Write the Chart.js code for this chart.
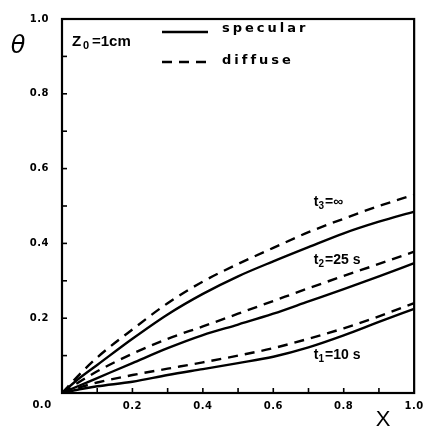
<!DOCTYPE html>
<html><head><meta charset="utf-8">
<script src="https://cdn.jsdelivr.net/npm/chart.js@4"></script>
<style>html,body{margin:0;padding:0;background:#fff}#c{display:block}</style>
</head><body>
<canvas id="c" width="430" height="433"></canvas>
<script>
const xValues      = [0, 0.05, 0.1, 0.2, 0.3, 0.4, 0.5, 0.6, 0.7, 0.8, 0.9, 1.0];
const diffuseT3    = [0, 0.05, 0.095, 0.17, 0.24, 0.298, 0.345, 0.388, 0.43, 0.466, 0.50, 0.53];
const specularT3   = [0, 0.04, 0.075, 0.145, 0.21, 0.265, 0.312, 0.352, 0.39, 0.427, 0.458, 0.485];
const diffuseT2    = [0, 0.03, 0.058, 0.105, 0.145, 0.178, 0.212, 0.246, 0.28, 0.313, 0.345, 0.378];
const specularT2   = [0, 0.02, 0.04, 0.08, 0.12, 0.155, 0.183, 0.212, 0.245, 0.278, 0.312, 0.347];
const diffuseT1    = [0, 0.015, 0.028, 0.048, 0.065, 0.082, 0.10, 0.12, 0.145, 0.173, 0.205, 0.24];
const specularT1   = [0, 0.01, 0.018, 0.03, 0.048, 0.064, 0.08, 0.097, 0.122, 0.154, 0.19, 0.225];
const xTickLabels  = ['0.2', '0.4', '0.6', '0.8', '1.0'];
const yTickLabels  = ['0.2', '0.4', '0.6', '0.8', '1.0'];
const curveLabels  = [['t', '3', '=\u221e'], ['t', '2', '=25 s'], ['t', '1', '=10 s']];

const pts = arr => arr.map((v, i) => ({x: xValues[i], y: v}));
const DASH = [10, 7];
function ds(data, dashed) {
  return {data: pts(data), borderColor: '#000', borderWidth: 2.4, pointRadius: 0,
    borderDash: dashed ? DASH : [], cubicInterpolationMode: 'monotone', fill: false};
}

const lbl = (list) => (v) => { const s = Number(v).toFixed(1); return list.includes(s) ? s : ''; };
const TICKFONT = '"DejaVu Sans", sans-serif';

const spacing = {
  id: 'spacing',
  beforeDraw(c) { c.ctx.letterSpacing = '0.5px'; },
  beforeDatasetsDraw(c) { c.ctx.letterSpacing = '0px'; }
};

const deco = {
  id: 'deco',
  afterDraw(c) {
    const ctx = c.ctx, a = c.chartArea, xs = c.scales.x, ys = c.scales.y;
    ctx.save();
    ctx.strokeStyle = '#000'; ctx.fillStyle = '#000';
    ctx.lineWidth = 2.2; ctx.setLineDash([]);
    ctx.strokeRect(a.left, a.top, a.right - a.left, a.bottom - a.top);
    ctx.lineWidth = 1.6;
    for (let i = 1; i < 10; i++) {
      const v = i / 10;
      const px = xs.getPixelForValue(v);
      ctx.beginPath(); ctx.moveTo(px, a.bottom); ctx.lineTo(px, a.bottom - 5); ctx.stroke();
      const py = ys.getPixelForValue(v);
      ctx.beginPath(); ctx.moveTo(a.left, py); ctx.lineTo(a.left + 5, py); ctx.stroke();
    }
    // 0.0 corner label
    ctx.letterSpacing = '0.5px';
    ctx.font = 'bold 10px ' + TICKFONT;
    ctx.textAlign = 'center'; ctx.textBaseline = 'middle';
    ctx.fillText('0.0', 42, 405);
    // legend
    ctx.letterSpacing = '3px';
    ctx.font = 'bold 13px ' + TICKFONT;
    ctx.textAlign = 'left';
    ctx.fillText('specular', 222, 29);
    ctx.fillText('diffuse', 222, 61);
    ctx.letterSpacing = '0px';
    ctx.lineWidth = 2.4;
    ctx.beginPath(); ctx.moveTo(162, 32); ctx.lineTo(208, 32); ctx.stroke();
    ctx.setLineDash(DASH);
    ctx.beginPath(); ctx.moveTo(162, 62); ctx.lineTo(208, 62); ctx.stroke();
    ctx.setLineDash([]);
    // Z0 = 1cm
    ctx.font = 'bold 15px "Liberation Sans", Arial, sans-serif';
    ctx.fillText('Z', 72, 42);
    ctx.font = 'bold 11px "Liberation Sans", Arial, sans-serif';
    ctx.fillText('0', 83, 46);
    ctx.font = 'bold 15px "Liberation Sans", Arial, sans-serif';
    ctx.fillText('=1cm', 92, 42);
    // curve labels
    const lx = xs.getPixelForValue(0.715);
    const lys = [202, 260, 355];
    curveLabels.forEach((l, i) => {
      const y = lys[i];
      ctx.font = 'bold 14px "Liberation Sans", Arial, sans-serif';
      ctx.fillText(l[0], lx, y);
      const w = ctx.measureText(l[0]).width;
      ctx.font = 'bold 10px "Liberation Sans", Arial, sans-serif';
      ctx.fillText(l[1], lx + w, y + 4);
      const w2 = ctx.measureText(l[1]).width;
      ctx.font = 'bold 14px "Liberation Sans", Arial, sans-serif';
      ctx.fillText(l[2], lx + w + w2 + 1, y);
    });
    // axis titles
    ctx.textAlign = 'center';
    ctx.font = 'italic 24px "DejaVu Sans", sans-serif';
    ctx.fillText('\u03b8', 18, 47);
    ctx.font = '22px "Liberation Sans", Arial, sans-serif';
    ctx.fillText('X', 383, 420);
    ctx.restore();
  }
};

new Chart(document.getElementById('c'), {
  type: 'line',
  data: {datasets: [
    ds(specularT3, false), ds(diffuseT3, true),
    ds(specularT2, false), ds(diffuseT2, true),
    ds(specularT1, false), ds(diffuseT1, true)
  ]},
  options: {
    responsive: false, animation: false, devicePixelRatio: 1,
    layout: {padding: {left: 0, top: 15, right: 13, bottom: 0}},
    plugins: {legend: {display: false}, tooltip: {enabled: false}},
    scales: {
      x: {type: 'linear', min: 0, max: 1,
        grid: {display: false, drawTicks: false},
        border: {display: true, color: '#000', width: 2},
        ticks: {stepSize: 0.1, autoSkip: false, maxRotation: 0, padding: 7, color: '#000',
          font: {family: TICKFONT, size: 10, weight: 'bold'},
          callback: lbl(xTickLabels)},
        afterFit: s => { s.height = 40; }
      },
      y: {type: 'linear', min: 0, max: 1,
        grid: {display: false, drawTicks: false},
        border: {display: true, color: '#000', width: 2},
        ticks: {stepSize: 0.1, autoSkip: false, padding: 13, color: '#000',
          font: {family: TICKFONT, size: 10, weight: 'bold'},
          callback: lbl(yTickLabels)},
        afterFit: s => { s.width = 62; }
      }
    }
  },
  plugins: [spacing, deco]
});
</script>
</body></html>
